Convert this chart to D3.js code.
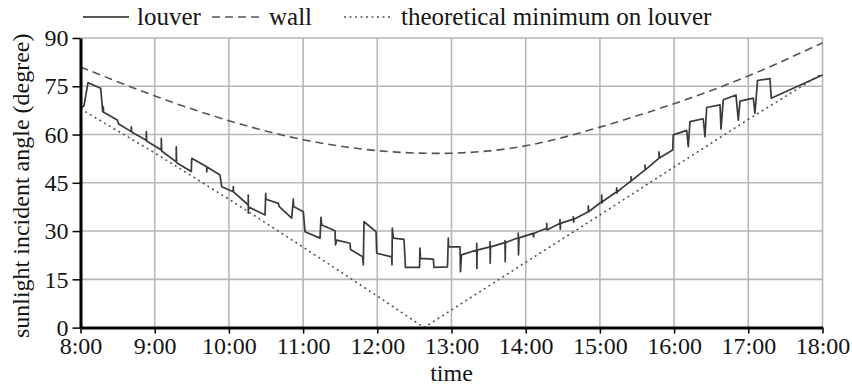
<!DOCTYPE html>
<html>
<head>
<meta charset="utf-8">
<script src="https://cdn.jsdelivr.net/npm/d3@7"></script>
<style>
  body { margin: 0; background: #fff; }
  svg { display: block; }
  svg text { font-family: "Liberation Serif", "Times New Roman", serif; fill: #151515; }
</style>
</head>
<body>
<svg id="chart" width="852" height="388"></svg>
<script>
// Hours of the day shown on the time axis and their labels
const hourTicks = [8, 9, 10, 11, 12, 13, 14, 15, 16, 17, 18];
const hourLabels = ["8:00", "9:00", "10:00", "11:00", "12:00", "13:00", "14:00", "15:00", "16:00", "17:00", "18:00"];
const angleTicks = [0, 15, 30, 45, 60, 75, 90];

// Incident angle on the wall (degree), hourly
const wallTime  = [8, 9, 10, 11, 12, 13, 14, 15, 16, 17, 18];
const wallAngle = [81, 72, 64.3, 58.4, 55, 54.2, 56.5, 62.3, 69.6, 78.2, 88.5];

// Theoretical minimum incident angle on the louver (degree)
const minTime  = [8, 9, 10, 11, 12, 12.63, 13, 14, 15, 16, 17, 18];
const minAngle = [68, 54.3, 39.9, 25, 9.8, 0, 5.5, 20.3, 35, 49.9, 64.7, 79];

// Incident angle on the louver (degree) through the stepwise louver adjustments
const louverTime = [
  8.000, 8.047, 8.101, 8.272, 8.299, 8.307, 8.311, 8.496, 8.515,
  8.685, 8.685, 8.689, 8.887, 8.887, 8.891, 9.089, 9.089, 9.093,
  9.291, 9.291, 9.295, 9.493, 9.499, 9.701, 9.701, 9.705, 9.880, 9.903,
  10.059, 10.059, 10.063, 10.261, 10.261, 10.262, 10.265, 10.487, 10.496, 10.500,
  10.666, 10.679, 10.846, 10.868, 10.872, 11.003, 11.026, 11.228, 11.241, 11.251,
  11.430, 11.437, 11.453, 11.632, 11.639, 11.803, 11.811, 11.821, 11.983, 11.992,
  12.194, 12.198, 12.202, 12.216, 12.360, 12.380, 12.569, 12.575, 12.582,
  12.755, 12.764, 12.946, 12.957, 12.961, 13.115, 13.121, 13.135,
  13.340, 13.340, 13.342, 13.346, 13.519, 13.519, 13.522, 13.526,
  13.721, 13.721, 13.724, 13.728, 13.900, 13.900, 13.903, 13.910,
  14.102, 14.106, 14.112, 14.283, 14.283, 14.287, 14.462, 14.462, 14.466, 14.470,
  14.642, 14.642, 14.646, 14.650, 14.844, 14.844, 14.848,
  15.024, 15.024, 15.028, 15.032, 15.226, 15.226, 15.230, 15.234,
  15.419, 15.419, 15.423, 15.608, 15.608, 15.612, 15.797, 15.797, 15.801,
  15.981, 15.989, 16.170, 16.191, 16.214, 16.393, 16.416, 16.439,
  16.619, 16.632, 16.663, 16.834, 16.865, 16.888, 17.067, 17.090, 17.124,
  17.292, 17.309, 18.000
];
const louverAngle = [
  68.2, 68.9, 76.1, 74.4, 67.1, 68.6, 66.9, 64.5, 63.3,
  60.9, 62.4, 60.8, 58.2, 60.9, 58.0, 55.2, 58.8, 54.9,
  51.5, 56.2, 51.2, 48.5, 52.6, 50.0, 48.4, 49.9, 47.4, 43.8,
  42.2, 43.8, 42.2, 38.1, 41.2, 35.6, 37.5, 35.0, 41.7, 39.9,
  38.6, 37.6, 34.0, 39.9, 37.6, 36.0, 29.8, 27.8, 34.3, 31.9,
  30.1, 25.7, 27.2, 26.2, 24.3, 22.0, 19.5, 32.9, 29.8, 23.1,
  22.0, 19.5, 30.9, 27.8, 27.4, 18.7, 18.7, 24.7, 21.5,
  21.3, 18.7, 18.9, 27.8, 25.1, 25.1, 17.4, 22.6,
  24.1, 26.2, 18.4, 24.1, 25.1, 26.7, 20.0, 25.1,
  26.4, 27.0, 20.5, 26.4, 27.9, 29.4, 22.6, 27.9,
  29.3, 28.2, 29.3, 30.9, 32.4, 30.3, 32.4, 33.6, 30.6, 32.4,
  33.7, 34.5, 32.8, 33.7, 36.0, 37.8, 36.0,
  39.1, 41.2, 38.7, 39.1, 42.2, 43.4, 41.8, 42.2,
  45.6, 46.9, 45.6, 49.0, 50.5, 49.0, 52.7, 54.6, 52.7,
  55.2, 59.9, 61.3, 56.2, 64.0, 64.9, 59.3, 68.4,
  69.2, 61.7, 70.8, 72.3, 64.5, 70.4, 71.3, 66.6, 76.8,
  77.4, 71.3, 78.5
];

const SERIF = "'Liberation Serif', 'Times New Roman', serif";
const svg = d3.select("#chart");
const plot = { left: 80.5, right: 822.5, top: 38, bottom: 327.6 };

const x = d3.scaleLinear().domain([8, 18]).range([plot.left, plot.right]);
const y = d3.scaleLinear().domain([0, 90]).range([plot.bottom, plot.top]);

// grid
const grid = svg.append("g").attr("stroke", "#b6b6b6").attr("stroke-width", 1.6);
grid.selectAll("line.v").data(hourTicks.slice(1)).join("line")
  .attr("x1", d => x(d)).attr("x2", d => x(d))
  .attr("y1", plot.top).attr("y2", plot.bottom);
grid.selectAll("line.h").data(angleTicks.slice(1)).join("line")
  .attr("x1", plot.left).attr("x2", plot.right)
  .attr("y1", d => y(d)).attr("y2", d => y(d));

const toPts = (ts, as) => ts.map((t, i) => [t, as[i]]);
const line = d3.line().x(d => x(d[0])).y(d => y(d[1]));

// wall
svg.append("path")
  .attr("d", line.curve(d3.curveNatural)(toPts(wallTime, wallAngle)))
  .attr("fill", "none").attr("stroke", "#555").attr("stroke-width", 1.6)
  .attr("stroke-dasharray", "8,5");

// theoretical minimum on louver
svg.append("path")
  .attr("d", line.curve(d3.curveLinear)(toPts(minTime, minAngle)))
  .attr("fill", "none").attr("stroke", "#555").attr("stroke-width", 1.6)
  .attr("stroke-dasharray", "2,3.5");

// louver
svg.append("path")
  .attr("d", line.curve(d3.curveLinear)(toPts(louverTime, louverAngle)))
  .attr("fill", "none").attr("stroke", "#3a3a3a").attr("stroke-width", 1.7)
  .attr("stroke-linejoin", "round");

// axes
const yAxis = svg.append("g")
  .attr("transform", `translate(${plot.left},0)`)
  .call(d3.axisLeft(y).tickValues(angleTicks).tickSize(8).tickPadding(4).tickSizeOuter(0));
const xAxis = svg.append("g")
  .attr("transform", `translate(0,${plot.bottom})`)
  .call(d3.axisBottom(x).tickValues(hourTicks).tickFormat((d, i) => hourLabels[i])
    .tickSize(6).tickPadding(3).tickSizeOuter(0));
[yAxis, xAxis].forEach(a => {
  a.attr("font-family", SERIF).attr("font-size", 24);
  a.select(".domain").attr("stroke", "#000").attr("stroke-width", 3);
  a.selectAll(".tick line").attr("stroke", "#000").attr("stroke-width", 1.5);
  a.selectAll(".tick text").style("font-family", SERIF).style("font-size", "24px")
    .style("fill", "#151515");
});

// axis titles
svg.append("text")
  .attr("x", (plot.left + plot.right) / 2).attr("y", 381)
  .attr("text-anchor", "middle")
  .style("font-family", SERIF).style("font-size", "24px").text("time");
svg.append("text")
  .attr("transform", `translate(29,${(plot.top + plot.bottom) / 2 + 3}) rotate(-90)`)
  .attr("text-anchor", "middle")
  .style("font-family", SERIF).style("font-size", "24px")
  .text("sunlight incident angle (degree)");

// legend
const legend = [
  { name: "louver", dash: null, x0: 83, x1: 129, tx: 137 },
  { name: "wall", dash: "8,5", x0: 212, x1: 259, tx: 269 },
  { name: "theoretical minimum on louver", dash: "2,3.5", x0: 344, x1: 393, tx: 401 }
];
const lg = svg.append("g");
legend.forEach(d => {
  lg.append("line").attr("x1", d.x0).attr("x2", d.x1).attr("y1", 17).attr("y2", 17)
    .attr("stroke", d.dash ? "#555" : "#222").attr("stroke-width", 1.6)
    .attr("stroke-dasharray", d.dash);
  lg.append("text").attr("x", d.tx).attr("y", 25)
    .style("font-family", SERIF).style("font-size", "25px").text(d.name);
});
</script>
</body>
</html>
